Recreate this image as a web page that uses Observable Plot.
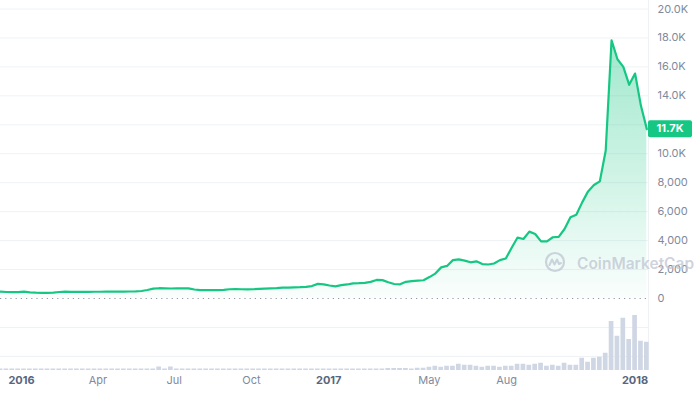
<!DOCTYPE html>
<html><head><meta charset="utf-8">
<script src="https://cdn.jsdelivr.net/npm/d3@7"></script>
<script src="https://cdn.jsdelivr.net/npm/@observablehq/plot@0.6"></script>
<style>
html,body{margin:0;padding:0;background:#fff;}
#wrap{position:relative;width:696px;height:396px;overflow:hidden;font-family:Inter,sans-serif;background:#fff;}
#wrap svg{position:absolute;left:0;top:0;}
#wmlogo{position:absolute;left:544px;top:251px;pointer-events:none;}
#wmtext{position:absolute;left:577px;top:256px;font:600 15.5px/1 Inter,sans-serif;color:rgba(190,197,210,0.75);pointer-events:none;white-space:nowrap;}
</style></head><body><div id="wrap"></div>
<script>
// ---- data (weekly points) ----
const startDate = "2015-12-07";
const priceValues = [
  470, 450, 440, 440, 470, 420, 400, 390, 390, 410,
  450, 470, 460, 460, 460, 460, 465, 465, 470, 475,
  480, 480, 485, 490, 520, 590, 680, 710, 700, 690,
  700, 700, 700, 620, 580, 575, 575, 580, 600, 640,
  650, 640, 630, 640, 660, 680, 700, 720, 750, 750,
  770, 780, 800, 860, 1010, 980, 900, 840, 920, 970,
  1050, 1060, 1080, 1150, 1280, 1270, 1120, 1000, 980, 1150,
  1200, 1240, 1260, 1480, 1720, 2150, 2250, 2650, 2700, 2620,
  2500, 2570, 2380, 2350, 2420, 2650, 2760, 3500, 4210, 4110,
  4620, 4460, 3950, 3950, 4230, 4260, 4800, 5610, 5790, 6640,
  7400, 7840, 8090, 10210, 17840, 16530, 16000, 14760, 15540, 13310, 11700
];
const volumeValues = [
  0.6, 0.6, 0.6, 0.6, 0.6, 0.6, 0.6, 0.6, 0.6, 0.6,
  0.6, 0.6, 0.6, 0.6, 0.6, 0.6, 0.6, 0.6, 0.6, 0.6,
  0.6, 0.6, 0.6, 0.6, 0.6, 0.6, 0.6, 1.4, 0.6, 1.4,
  0.6, 0.6, 0.6, 0.6, 0.6, 0.6, 0.6, 0.6, 0.6, 0.6,
  0.6, 0.6, 0.6, 0.6, 0.6, 0.6, 0.6, 0.6, 0.6, 0.6,
  0.6, 0.6, 0.6, 0.6, 0.6, 0.6, 0.6, 0.6, 0.6, 0.6,
  0.6, 0.6, 0.6, 0.6, 0.6, 0.6, 0.8, 0.8, 0.8, 0.8,
  0.6, 0.9, 0.9, 1.3, 1.7, 1.3, 1.7, 1.7, 2.5, 2.1,
  2.1, 1.7, 1.3, 1.7, 1.7, 1.3, 1.7, 1.7, 2.5, 2.5,
  2.1, 2.5, 2.9, 1.7, 2.1, 1.7, 2.9, 2.1, 2.1, 4.9,
  3.3, 4.9, 5.3, 6.9, 19.6, 13.7, 20.9, 12.4, 22, 11.7, 11.3
];
const gridValues = [-4000, -2000, 2000, 4000, 6000, 8000, 10000, 12000, 14000, 16000, 18000, 20000];
const yLabelValues = [0, 2000, 4000, 6000, 8000, 10000, 14000, 16000, 18000, 20000];
const yearTicks = ["2016-01-01", "2017-01-01", "2018-01-01"];
const yearLabels = ["2016", "2017", "2018"];
const monthTicks = ["2016-04-01", "2016-07-01", "2016-10-01", "2017-05-01", "2017-08-01"];
const monthLabels = ["Apr", "Jul", "Oct", "May", "Aug"];
const lastLabel = "11.7K";

// ---- build ----
const t0 = new Date(startDate);
const series = priceValues.map((p, i) => ({date: d3.utcDay.offset(t0, 7 * i), price: p, volume: volumeValues[i]}));
const W = 696, H = 396, MR = 48, MB = 26;
const xEnd = d3.utcDay.offset(series[series.length - 1].date, 2);
const xScale = {type: "utc", domain: [series[0].date, xEnd], range: [0, W - MR], axis: null};
const fmt = v => v >= 10000 ? (v / 1000).toFixed(1) + "K" : d3.format(",")(v);
const years = yearTicks.map((d, i) => ({date: new Date(d), label: yearLabels[i]}));
const months = monthTicks.map((d, i) => ({date: new Date(d), label: monthLabels[i]}));

const price = Plot.plot({
  width: W, height: H, marginTop: 0, marginLeft: 0, marginRight: MR, marginBottom: MB,
  style: {background: "transparent", fontFamily: "Inter, sans-serif", fontSize: "11px"},
  x: xScale,
  y: {domain: [0, 20000], range: [298, 8.5], axis: null},
  marks: [
    Plot.ruleY(gridValues, {stroke: "#eff2f5", strokeWidth: 1}),
    Plot.ruleX([xEnd], {stroke: "#eff2f5", strokeWidth: 1}),
    Plot.areaY(series, {x: "date", y: "price", fill: "url(#pgrad)"}),
    Plot.ruleY([0], {stroke: "#8f97a6", strokeWidth: 1.2, strokeDasharray: "1.2,4"}),
    Plot.lineY(series, {x: "date", y: "price", stroke: "#16c784", strokeWidth: 2.2}),
    Plot.text(yLabelValues, {y: d => d, text: fmt, frameAnchor: "right", dx: 9, textAnchor: "start", fill: "#808a9d", fontSize: 11}),
    Plot.text(years, {x: "date", text: "label", frameAnchor: "bottom", dy: 13.5, fill: "#58667e", fontSize: 11, fontWeight: 700}),
    Plot.text(months, {x: "date", text: "label", frameAnchor: "bottom", dy: 13.5, fill: "#808a9d", fontSize: 11})
  ]
});

d3.select(price).insert("defs", ":first-child").html(
  '<linearGradient id="pgrad" gradientUnits="userSpaceOnUse" x1="0" y1="30" x2="0" y2="298">' +
  '<stop offset="0" stop-color="#16c784" stop-opacity="0.42"/>' +
  '<stop offset="1" stop-color="#16c784" stop-opacity="0.02"/></linearGradient>');

// price tag at last value, placed with the plot's own y scale
const yLast = price.scale("y").apply(series[series.length - 1].price);
const tag = d3.select(price).append("g");
tag.append("rect").attr("x", W - MR).attr("y", yLast - 8.5).attr("width", 44).attr("height", 17).attr("rx", 2).attr("fill", "#16c784");
tag.append("text").attr("x", W - MR + 22).attr("y", yLast).attr("dy", "0.35em").attr("text-anchor", "middle")
  .attr("fill", "#fff").attr("font-weight", 700).attr("font-size", 11).attr("font-family", "Inter, sans-serif").text(lastLabel);

const vol = Plot.plot({
  width: W, height: H, marginTop: 0, marginLeft: 0, marginRight: MR, marginBottom: MB,
  style: {background: "transparent"},
  x: xScale,
  y: {domain: [0, 22], range: [370, 315], axis: null},
  marks: [
    Plot.rectY(series, {x1: d => d3.utcHour.offset(d.date, -84), x2: d => d3.utcHour.offset(d.date, 84), y: "volume", fill: "#cfd6e4", insetLeft: 0.6, insetRight: 0.6})
  ]
});

const wrap = document.getElementById("wrap");
wrap.appendChild(price);
const logo = document.createElement("div");
logo.id = "wmlogo";
logo.innerHTML = '<svg width="22" height="22" viewBox="0 0 22 22" style="position:static"><circle cx="11" cy="11" r="9" fill="none" stroke="rgba(190,197,210,0.75)" stroke-width="2.2"/><path d="M5.5 14 L8 8.5 L10.5 13.5 L13 8.5 L15 13 L17 12" fill="none" stroke="rgba(190,197,210,0.75)" stroke-width="2" stroke-linejoin="round" stroke-linecap="round"/></svg>';
wrap.appendChild(logo);
const wm = document.createElement("div");
wm.id = "wmtext";
wm.textContent = "CoinMarketCap";
wrap.appendChild(wm);
wrap.appendChild(vol);
</script></body></html>
